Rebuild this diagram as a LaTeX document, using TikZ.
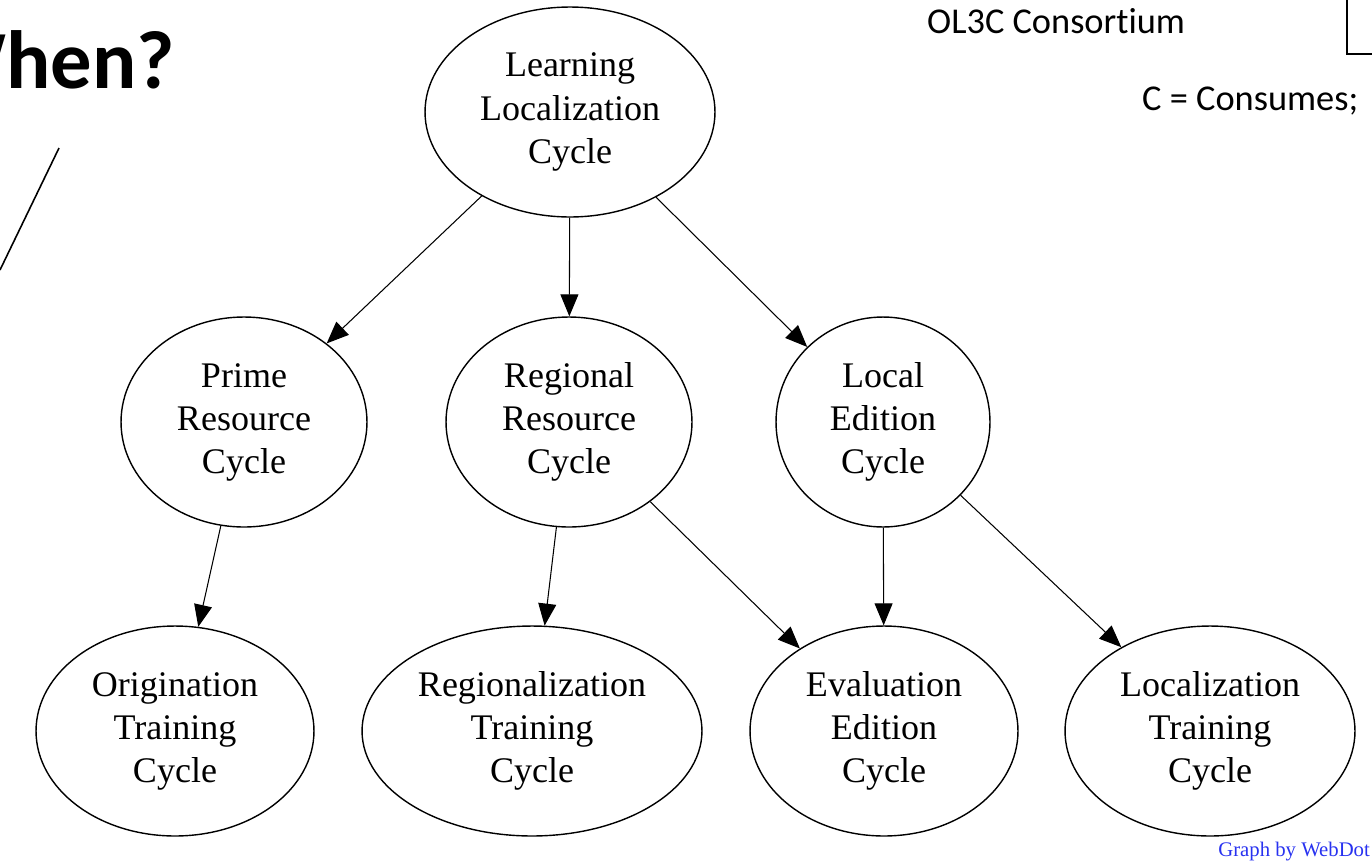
\documentclass[tikz,border=0pt]{standalone}
\usepackage{fontspec}
\setmainfont{Liberation Serif}
\newfontfamily\calibri[Ligatures=NoCommon]{Carlito}
\usepackage{tikz}
\usetikzlibrary{shapes.geometric,arrows.meta}
\definecolor{webdot}{RGB}{40,50,240}

\begin{document}
\begin{tikzpicture}[x=0.02cm,y=-0.02cm,
    cyc/.style={draw,ellipse,line width=0.8pt,inner sep=0pt,align=center,
      font=\fontsize{20.5}{24.5}\selectfont,minimum height=4.2cm},
    dep/.style={-{Triangle[length=0.44cm,width=0.36cm]},line width=0.6pt}]
  \useasboundingbox (0,0) rectangle (1372,866);
  \clip (0,0) rectangle (1372,866);

  % slide leftovers
  \node[anchor=base east,font=\calibri\bfseries\fontsize{47}{52}\selectfont] (when) at (181,88) {When?};
  \draw[line width=0.9pt] (59,148) -- (0,270);
  \node[anchor=base west,font=\calibri\fontsize{20.7}{24}\selectfont] (consort) at (921,33) {OL3C Consortium};
  \node[anchor=base west,font=\calibri\fontsize{20.7}{24}\selectfont] (legend) at (1136,110) {C = Consumes;};
  \draw[line width=1.2pt] (1347,0) -- (1347,54) -- (1372,54);

  % cycles
  \node[cyc,minimum width=5.8cm]  (learn)  at (570,112) {Learning\\Localization\\Cycle};
  \node[cyc,minimum width=4.92cm] (prime)  at (244,422) {Prime\\Resource\\Cycle};
  \node[cyc,minimum width=4.92cm] (region) at (569,422) {Regional\\Resource\\Cycle};
  \node[cyc,minimum width=4.28cm] (local)  at (883,422) {Local\\Edition\\Cycle};
  \node[cyc,minimum width=5.56cm] (origtr) at (175,731) {Origination\\Training\\Cycle};
  \node[cyc,minimum width=6.8cm]  (regtr)  at (532,731) {Regionalization\\Training\\Cycle};
  \node[cyc,minimum width=5.36cm] (evaled) at (884,731) {Evaluation\\Edition\\Cycle};
  \node[cyc,minimum width=5.8cm]  (loctr)  at (1210,731) {Localization\\Training\\Cycle};

  \draw[dep] (learn) -- (prime);
  \draw[dep] (learn) -- (region);
  \draw[dep] (learn) -- (local);
  \draw[dep] (prime) -- (origtr);
  \draw[dep] (region) -- (regtr);
  \draw[dep] (region) -- (evaled);
  \draw[dep] (local) -- (evaled);
  \draw[dep] (local) -- (loctr);

  \node[anchor=base west,inner sep=0pt,text=webdot,font=\fontsize{11.8}{14}\selectfont] (credit) at (1218,856) {Graph by WebDot};
\end{tikzpicture}
\end{document}
